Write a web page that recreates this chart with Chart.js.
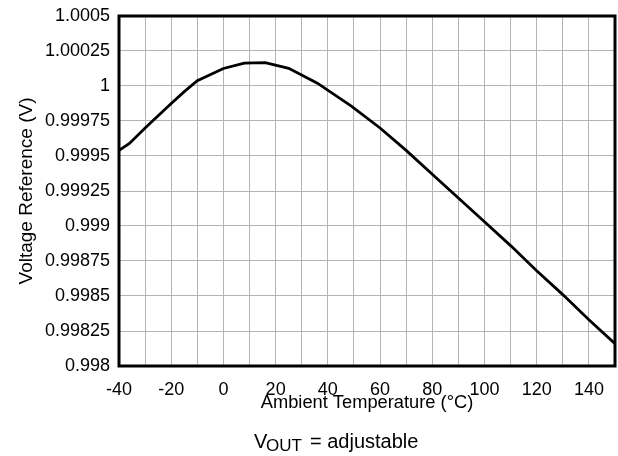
<!DOCTYPE html>
<html>
<head>
<meta charset="utf-8">
<script src="https://cdn.jsdelivr.net/npm/chart.js@4"></script>
<style>
  html, body { margin: 0; padding: 0; background: #ffffff; }
  #wrap { width: 618px; height: 456px; position: relative; }
</style>
</head>
<body>
<div id="wrap"><canvas id="c" width="618" height="456"></canvas></div>
<script>
// ---- data ----
const temps = [-40, -36, -30, -20, -15, -10, 0, 8, 16, 25, 36, 49, 60, 70, 80, 90, 100, 110, 120, 130, 140, 150];
const vref  = [0.99954, 0.99959, 0.99970, 0.999875, 0.99996, 1.000038, 1.000125, 1.000163, 1.000167, 1.000126, 1.00002, 0.999857, 0.99970, 0.99954, 0.99937, 0.99920, 0.99903, 0.99886, 0.99868, 0.99851, 0.99833, 0.99816];

const xGridValues = [-40, -30, -20, -10, 0, 10, 20, 30, 40, 50, 60, 70, 80, 90, 100, 110, 120, 130, 140, 150];
const xTickLabels = ['-40', '-20', '0', '20', '40', '60', '80', '100', '120', '140'];
const yTickValues = [0.998, 0.99825, 0.9985, 0.99875, 0.999, 0.99925, 0.9995, 0.99975, 1, 1.00025, 1.0005];
const yTickLabels = ['0.998', '0.99825', '0.9985', '0.99875', '0.999', '0.99925', '0.9995', '0.99975', '1', '1.00025', '1.0005'];

const xTitle = 'Ambient Temperature (°C)';
const yTitle = 'Voltage Reference (V)';
const noteMain = 'V';
const noteSub = 'OUT';
const noteRest = '= adjustable';

const FONT = "'Liberation Sans', Arial, sans-serif";

const frameAndNote = {
  id: 'frameAndNote',
  afterDatasetsDraw(chart) {
    const {ctx, chartArea: a} = chart;
    ctx.save();
    ctx.strokeStyle = '#000000';
    ctx.lineWidth = 3;
    ctx.strokeRect(a.left, a.top, a.right - a.left, a.bottom - a.top);
    ctx.restore();
  },
  afterDraw(chart) {
    const ctx = chart.ctx;
    ctx.save();
    ctx.fillStyle = '#000000';
    ctx.textBaseline = 'alphabetic';
    ctx.textAlign = 'left';
    ctx.font = '20px ' + FONT;
    ctx.fillText(noteMain, 254, 448);
    ctx.font = '17px ' + FONT;
    ctx.fillText(noteSub, 266, 451);
    ctx.font = '20px ' + FONT;
    ctx.fillText(noteRest, 310, 448);
    ctx.restore();
  }
};

new Chart(document.getElementById('c'), {
  type: 'line',
  data: {
    datasets: [{
      data: temps.map((t, i) => ({x: t, y: vref[i]})),
      borderColor: '#000000',
      borderWidth: 2.8,
      pointRadius: 0,
      tension: 0,
      fill: false
    }]
  },
  options: {
    responsive: false,
    animation: false,
    events: [],
    layout: { padding: { left: 0, right: 3, top: 16, bottom: 0 } },
    plugins: { legend: { display: false }, tooltip: { enabled: false } },
    scales: {
      x: {
        type: 'linear',
        min: -40, max: 150,
        afterBuildTicks: (s) => { s.ticks = xGridValues.map(v => ({value: v})); },
        afterFit: (s) => { s.height = 90; },
        grid: { color: '#b4b4b4', lineWidth: 1, drawTicks: true, tickLength: 10, tickColor: 'rgba(0,0,0,0)' },
        border: { display: false },
        ticks: {
          autoSkip: false, maxRotation: 0, minRotation: 0,
          padding: 3,
          color: '#000000',
          font: { family: FONT, size: 18 },
          callback: (v) => xTickLabels.includes(String(v)) ? String(v) : ''
        },
        title: {
          display: true, text: xTitle, color: '#000000',
          font: { family: FONT, size: 18.3 },
          padding: { top: 0, bottom: 42 }
        }
      },
      y: {
        type: 'linear',
        min: 0.998, max: 1.0005,
        afterBuildTicks: (s) => { s.ticks = yTickValues.map(v => ({value: v})); },
        afterFit: (s) => { s.width = 119; },
        grid: { color: '#b4b4b4', lineWidth: 1, drawTicks: true, tickLength: 6, tickColor: 'rgba(0,0,0,0)' },
        border: { display: false },
        ticks: {
          autoSkip: false,
          padding: 3,
          color: '#000000',
          font: { family: FONT, size: 18 },
          callback: function(v, i) { return yTickLabels[i]; }
        },
        title: {
          display: true, text: yTitle, color: '#000000',
          font: { family: FONT, size: 19 },
          padding: { top: 15, bottom: 0 }
        }
      }
    }
  },
  plugins: [frameAndNote]
});
</script>
</body>
</html>
